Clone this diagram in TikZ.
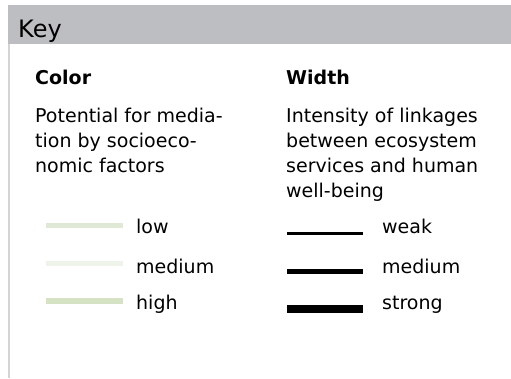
\documentclass[tikz,border=0pt]{standalone}
\usepackage{fontspec}
\setmainfont{DejaVu Sans}
\usepackage{tikz}
\usetikzlibrary{positioning}

\definecolor{keygray}{HTML}{BDBEC1}
\definecolor{rulegray}{HTML}{D4D4D4}
\definecolor{lowgreen}{HTML}{E0E9D6}
\definecolor{medgreen}{HTML}{EEF4E9}
\definecolor{highgreen}{HTML}{D5E3C4}

\tikzset{
  bodytext/.style={font=\fontsize{19}{25}\selectfont, inner sep=0pt, anchor=base west, align=left},
  headtext/.style={bodytext, font=\fontsize{19}{25}\selectfont\bfseries},
  swatch/.style={line width=#1}
}

\begin{document}
\begin{tikzpicture}[x=1pt, y=-1pt]
  \useasboundingbox (0,0) rectangle (511,378);
  % header bar and left rule
  \fill[keygray] (8,5) rectangle (511,44);
  \fill[rulegray] (8,44) rectangle (10,378);
  \node[bodytext, font=\fontsize{24}{28}\selectfont] (key) at (18,37) {Key};
  % color column (multi-line nodes sit on their last baseline)
  \node[headtext] (colorhead) at (35,84) {Color};
  \node[bodytext] (colordesc) at (35,172) {Potential for media-\\tion by socioeco-\\nomic factors};
  \node[bodytext] (low) at (136,233) {low};
  \node[bodytext] (medcol) at (136,273) {medium};
  \node[bodytext] (high) at (136,309) {high};
  \draw[swatch=5pt, lowgreen] (46,225.5) -- (123,225.5);
  \draw[swatch=5pt, medgreen] (46,263.5) -- (123,263.5);
  \draw[swatch=6pt, highgreen] (46,301) -- (123,301);
  % width column
  \node[headtext] (widthhead) at (286,84) {Width};
  \node[bodytext] (widthdesc) at (286,197) {Intensity of linkages\\between ecosystem\\services and human\\well-being};
  \node[bodytext] (weak) at (382,233) {weak};
  \node[bodytext] (medwid) at (382,273) {medium};
  \node[bodytext] (strong) at (382,309) {strong};
  \draw[swatch=2.7pt] (287,233.5) -- (363,233.5);
  \draw[swatch=5pt] (287,271.5) -- (363,271.5);
  \draw[swatch=8pt] (287,309) -- (363,309);
\end{tikzpicture}
\end{document}
